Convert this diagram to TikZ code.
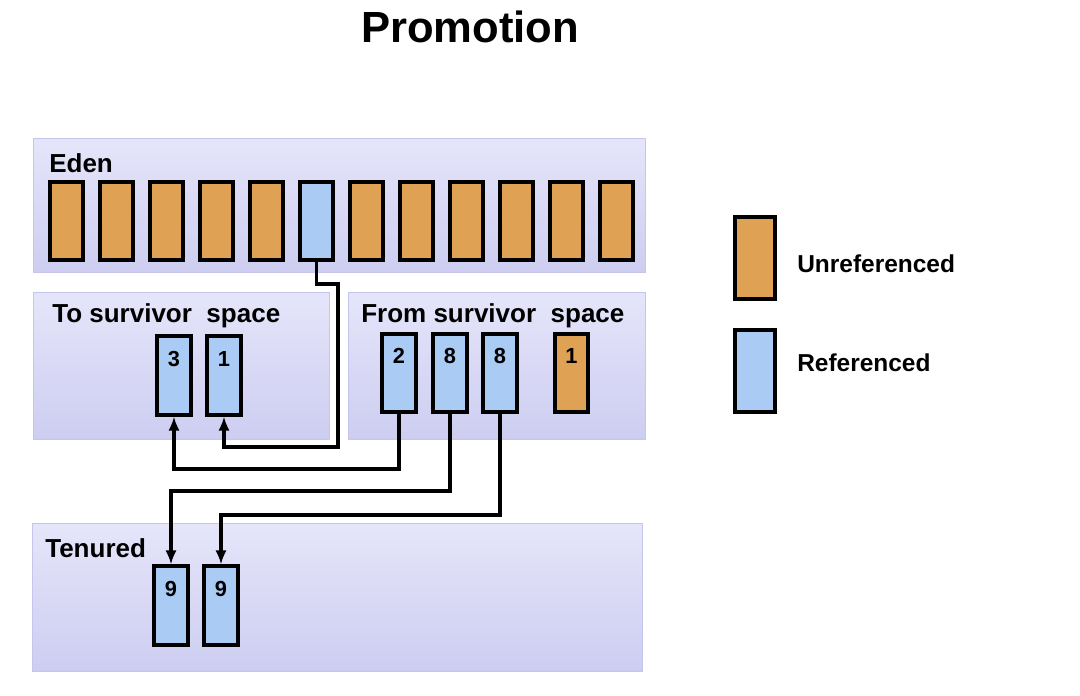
\documentclass[tikz,border=0pt]{standalone}
\usepackage{fontspec}
\setmainfont{Liberation Sans}
\usepackage{xcolor}
\usetikzlibrary{arrows.meta,positioning,calc}

\definecolor{unref}{RGB}{223,161,84}
\definecolor{refd}{RGB}{170,204,244}
\definecolor{paneltop}{RGB}{229,229,250}
\definecolor{panelbot}{RGB}{205,205,241}
\definecolor{panelrim}{RGB}{198,198,236}

\tikzset{
  panel/.style={rectangle, draw=panelrim, line width=0.8pt, top color=paneltop, bottom color=panelbot, inner sep=0pt},
  cell/.style={rectangle, draw=black, line width=2.6pt, minimum width=0.835cm, minimum height=1.96cm, inner sep=0pt},
  unrefcell/.style={cell, fill=unref},
  refcell/.style={cell, fill=refd},
  num/.style={anchor=north, inner sep=11pt, text height=11.3pt, text depth=0pt, font=\bfseries\fontsize{15.5}{16}\selectfont},
  area/.style={anchor=west, inner sep=0pt, font=\bfseries\fontsize{18.5}{20}\selectfont},
  legtxt/.style={anchor=west, inner sep=0pt, font=\bfseries\fontsize{17.4}{19}\selectfont},
  move/.style={line width=2.6pt, -{Latex[length=10pt,width=8pt]}}
}

\begin{document}
\begin{tikzpicture}[x=0.025cm,y=-0.025cm]
\useasboundingbox[fill=white] (0,0) rectangle (1080,696);

\node (ttl) at (470,27) {\bfseries\fontsize{31}{33}\selectfont Promotion};

% generations
\node[panel, minimum width=15.3cm, minimum height=3.35cm] (eden) at (339.5,205.5) {};
\node[panel, minimum width=7.4cm, minimum height=3.68cm] (tosp) at (181.5,366) {};
\node[panel, minimum width=7.43cm, minimum height=3.68cm] (fromsp) at (497,366) {};
\node[panel, minimum width=15.26cm, minimum height=3.7cm] (tenured) at (337.5,597.5) {};

\node[area] (edenlbl) at (49,163) {Eden};
\node[area] (toslbl) at (52,316) {To survivor\ \ space};
\node[area] (fromlbl) at (361,316) {From survivor\ \ space};
\node[area] (tenlbl) at (45,548) {Tenured};

% eden objects
\node[unrefcell] (e1) at (66.5,221) {};
\node[unrefcell] (e2) at (116.5,221) {};
\node[unrefcell] (e3) at (166.5,221) {};
\node[unrefcell] (e4) at (216.5,221) {};
\node[unrefcell] (e5) at (266.5,221) {};
\node[refcell] (e6) at (316.5,221) {};
\node[unrefcell] (e7) at (366.5,221) {};
\node[unrefcell] (e8) at (416.5,221) {};
\node[unrefcell] (e9) at (466.5,221) {};
\node[unrefcell] (e10) at (516.5,221) {};
\node[unrefcell] (e11) at (566.5,221) {};
\node[unrefcell] (e12) at (616.5,221) {};

% survivor spaces
\node[refcell, label={[num]north:3}] (t3) at (174,375.5) {};
\node[refcell, label={[num]north:1}] (t1) at (224,375.5) {};
\node[refcell, label={[num]north:2}] (f2) at (399,373) {};
\node[refcell, label={[num]north:8}] (f8a) at (450,373) {};
\node[refcell, label={[num]north:8}] (f8b) at (500,373) {};
\node[unrefcell, label={[num]north:1}] (f1) at (571.5,373) {};

% tenured
\node[refcell, label={[num]north:9}] (n9a) at (171,605.5) {};
\node[refcell, label={[num]north:9}] (n9b) at (221,605.5) {};

% legend
\node[unrefcell, minimum width=1.01cm, minimum height=2.06cm] (lgu) at (755,258) {};
\node[refcell, minimum width=1.01cm, minimum height=2.06cm] (lgr) at (755,371) {};
\node[legtxt] (lgutxt) at (797,264) {Unreferenced};
\node[legtxt] (lgrtxt) at (797,363) {Referenced};

\coordinate (k1) at (338,284);
\coordinate (k2) at (338,447);
\coordinate (k3) at (174,469);
\coordinate (k4) at (171,491);
\coordinate (k5) at (221,515);

\draw[move] (e6.south) |- (k1) -- (k2) -| (t1.south);
\draw[move] (f2.south) |- (k3) -- (t3.south);
\draw[move] (f8a.south) |- (k4) -- (n9a.north);
\draw[move] (f8b.south) |- (k5) -- (n9b.north);

\end{tikzpicture}
\end{document}
